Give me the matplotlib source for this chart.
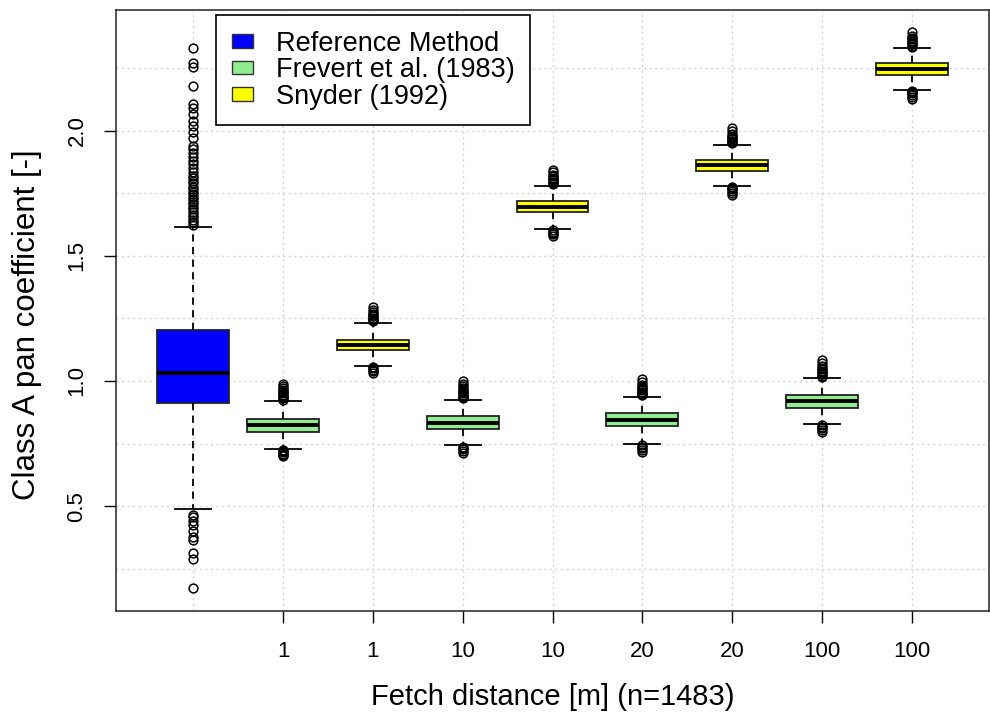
import matplotlib
matplotlib.use("Agg")
import matplotlib.pyplot as plt
from matplotlib.patches import Patch

plt.rcParams['font.family'] = ['Liberation Sans', 'DejaVu Sans']

# boxes in drawing order (R boxplot, 1483 days per group)
tick_labels = ["", "1", "1", "10", "10", "20", "20", "100", "100"]
methods = ["ref", "frevert", "snyder", "frevert", "snyder",
           "frevert", "snyder", "frevert", "snyder"]
colors = {"ref": "#0000FF", "frevert": "#90EE90", "snyder": "#FFFF00"}

q1 = [0.913, 0.796, 1.124, 0.807, 1.675, 0.820, 1.839, 0.893, 2.224]
med = [1.030, 0.823, 1.144, 0.833, 1.696, 0.845, 1.863, 0.919, 2.247]
q3 = [1.204, 0.847, 1.164, 0.860, 1.719, 0.871, 1.884, 0.944, 2.270]
whislo = [0.487, 0.730, 1.059, 0.743, 1.607, 0.748, 1.780, 0.828, 2.164]
whishi = [1.616, 0.919, 1.232, 0.925, 1.780, 0.937, 1.944, 1.011, 2.329]

fliers = [
    [1.625, 1.635, 1.645, 1.655, 1.665, 1.675, 1.685, 1.695, 1.705, 1.715,
     1.725, 1.735, 1.745, 1.755, 1.765, 1.775, 1.79, 1.80, 1.81, 1.82,
     1.835, 1.85, 1.865, 1.88, 1.895, 1.91, 1.925, 1.94, 1.97, 1.995,
     2.02, 2.04, 2.065, 2.09, 2.108, 2.18, 2.255, 2.27, 2.33,
     0.463, 0.455, 0.44, 0.424, 0.40, 0.376, 0.365, 0.313, 0.29, 0.171],
    [0.925, 0.93, 0.935, 0.94, 0.945, 0.95, 0.955, 0.96, 0.965, 0.97,
     0.978, 0.988, 0.725, 0.72, 0.715, 0.71, 0.705, 0.70],
    [1.238, 1.243, 1.248, 1.253, 1.258, 1.263, 1.268, 1.274, 1.282, 1.294,
     1.055, 1.05, 1.045, 1.04, 1.033],
    [0.93, 0.935, 0.94, 0.945, 0.95, 0.955, 0.96, 0.965, 0.97, 0.978,
     0.988, 0.998, 0.738, 0.733, 0.728, 0.722, 0.714],
    [1.786, 1.791, 1.796, 1.801, 1.806, 1.811, 1.817, 1.824, 1.833, 1.844,
     1.602, 1.597, 1.592, 1.586, 1.579],
    [0.942, 0.947, 0.952, 0.957, 0.962, 0.967, 0.972, 0.978, 0.985, 0.995,
     1.008, 0.743, 0.738, 0.733, 0.726, 0.717],
    [1.95, 1.955, 1.96, 1.965, 1.97, 1.975, 1.98, 1.987, 1.997, 2.01,
     1.775, 1.77, 1.765, 1.758, 1.751, 1.743],
    [1.016, 1.021, 1.026, 1.031, 1.036, 1.041, 1.046, 1.052, 1.06, 1.07,
     1.084, 0.823, 0.818, 0.813, 0.806, 0.797],
    [2.335, 2.34, 2.345, 2.35, 2.355, 2.36, 2.365, 2.371, 2.38, 2.393,
     2.159, 2.154, 2.149, 2.142, 2.135, 2.128],
]

legend_labels = ["Reference Method", "Frevert et al. (1983)", "Snyder (1992)"]

fig = plt.figure(figsize=(9.9, 7.16), dpi=100)
ax = fig.add_axes([116 / 990, 105 / 716, 873 / 990, 601 / 716])

stats = []
for i in range(len(med)):
    stats.append(dict(med=med[i], q1=q1[i], q3=q3[i], whislo=whislo[i],
                      whishi=whishi[i], fliers=fliers[i]))
positions = list(range(1, len(med) + 1))

bp = ax.bxp(stats, positions=positions, widths=0.8, capwidths=0.4,
            patch_artist=True, showfliers=True,
            boxprops=dict(edgecolor="#222222", linewidth=1.3),
            medianprops=dict(color="black", linewidth=2.8,
                             solid_capstyle="butt"),
            whiskerprops=dict(color="black", linewidth=1.3,
                              linestyle=(0, (4, 3))),
            capprops=dict(color="black", linewidth=1.3),
            flierprops=dict(marker="o", markerfacecolor="none",
                            markeredgecolor="black", markersize=6.3,
                            markeredgewidth=1.1))
for box, m in zip(bp["boxes"], methods):
    box.set_facecolor(colors[m])

ax.set_xlim(0.14, 9.86)
ax.set_ylim(0.081, 2.482)

# dotted grid like R's grid()
for x in positions:
    ax.axvline(x, color="#d3d3d3", linestyle=(0, (1.5, 2.5)), linewidth=1.0,
               zorder=0)
for y in [0.25, 0.5, 0.75, 1.0, 1.25, 1.5, 1.75, 2.0, 2.25]:
    ax.axhline(y, color="#d3d3d3", linestyle=(0, (1.5, 2.5)), linewidth=1.0,
               zorder=0)

ax.set_xticks(positions[1:])
ax.set_xticklabels(tick_labels[1:])
ax.set_yticks([0.5, 1.0, 1.5, 2.0])
ax.set_yticklabels(["0.5", "1.0", "1.5", "2.0"])
ax.tick_params(axis="both", length=8.5, width=1.0, labelsize=16,
               color="black")
ax.tick_params(axis="x", pad=13)
ax.tick_params(axis="y", pad=12, labelrotation=90)
for lbl in ax.get_yticklabels():
    lbl.set_va("center")

for sp in ax.spines.values():
    sp.set_linewidth(1.1)
    sp.set_color("#222222")

ax.set_xlabel("Fetch distance [m] (n=1483)", fontsize=21)
ax.set_ylabel("Class A pan coefficient [-]", fontsize=22.5)
ax.xaxis.set_label_coords(0.5, -0.143)
ax.xaxis.label.set_va("center")
ax.yaxis.set_label_coords(-0.102, 0.476)
ax.yaxis.label.set_va("center")

handles = [Patch(facecolor=colors[k], edgecolor="#333333", linewidth=1.0)
           for k in ["ref", "frevert", "snyder"]]
leg = ax.legend(handles, legend_labels, loc="upper left",
                bbox_to_anchor=(0.1145, 0.9917), borderaxespad=0,
                fontsize=19.5, frameon=True, fancybox=False, framealpha=1,
                edgecolor="black", handlelength=0.78, handleheight=0.4,
                handletextpad=0.85, labelspacing=0.02, borderpad=0.58)
leg.get_frame().set_linewidth(1.2)

fig.savefig("out.png", dpi=100)
